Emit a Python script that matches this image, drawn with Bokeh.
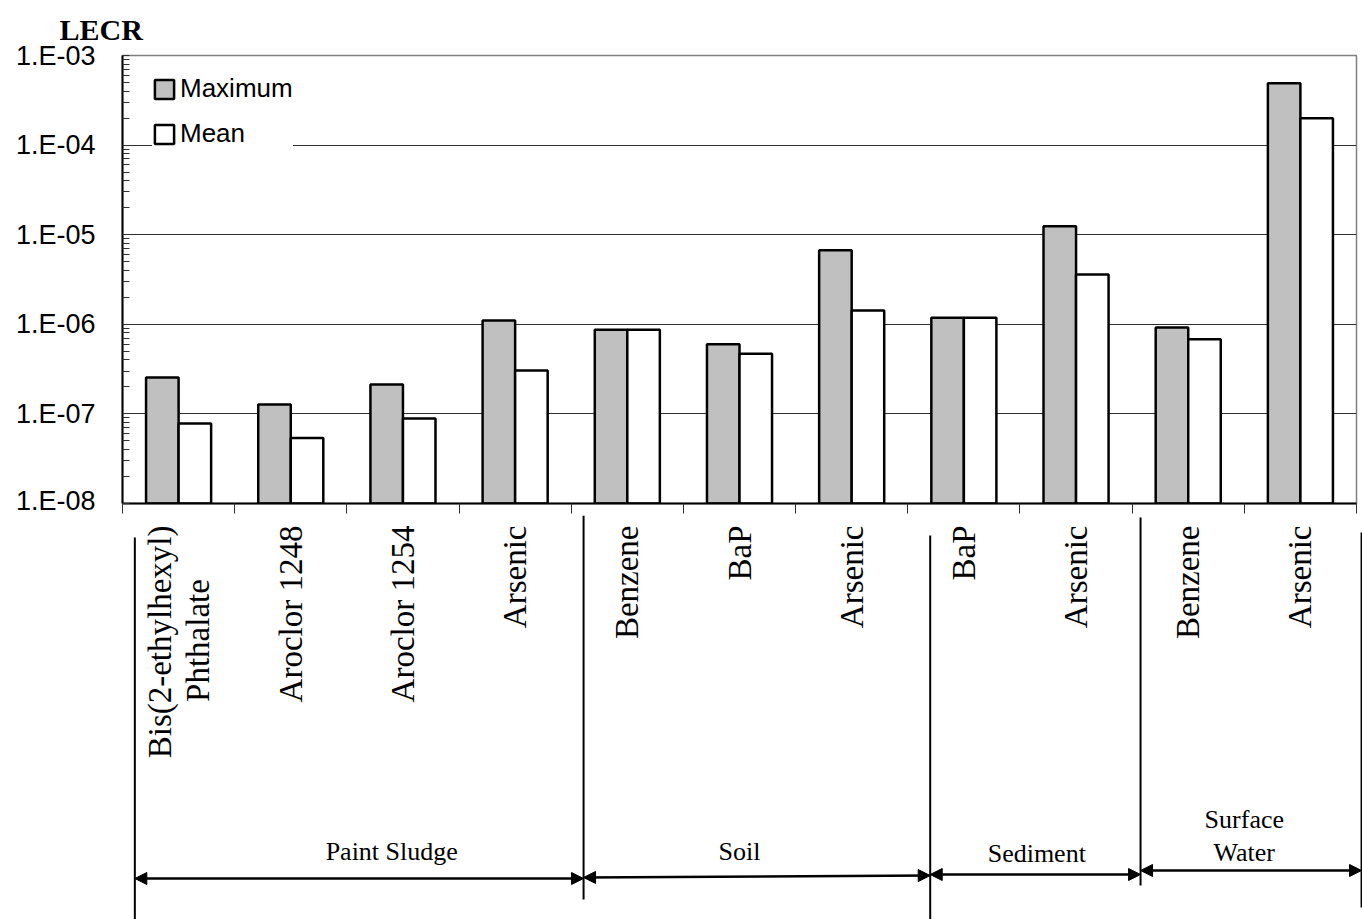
import numpy as np
from bokeh.plotting import figure
from bokeh.models import (Range1d, FixedTicker, CustomJSTickFormatter, Legend, LegendItem,
                          Title, Arrow, NormalHead, ColumnDataSource)
from bokeh.layouts import column
from bokeh.embed import file_html
from bokeh.resources import INLINE
from bokeh.core.properties import value

# ---------------- data ----------------
categories = ["Bis(2-ethylhexyl)\nPhthalate", "Aroclor 1248", "Aroclor 1254", "Arsenic",
              "Benzene", "BaP", "Arsenic", "BaP", "Arsenic", "Benzene", "Arsenic"]
maximum = [2.55e-7, 1.27e-7, 2.13e-7, 1.10e-6, 8.7e-7, 6.0e-7, 6.7e-6, 1.18e-6, 1.24e-5, 9.2e-7, 4.9e-4]
mean = [7.8e-8, 5.4e-8, 8.9e-8, 3.05e-7, 8.7e-7, 4.7e-7, 1.43e-6, 1.18e-6, 3.6e-6, 6.8e-7, 2.0e-4]
groups = ["Paint Sludge", "Soil", "Sediment", "Surface\nWater"]
group_sizes = [4, 3, 2, 2]
y_ticks = [1e-8, 1e-7, 1e-6, 1e-5, 1e-4, 1e-3]
y_label = "LECR"

SERIF = "Liberation Serif"
SANS = "Liberation Sans"
N = len(categories)
FW, FH = 1234, 448
TOP_H = 55 + FH + 12

# ---------------- top chart ----------------
p = figure(frame_width=FW, frame_height=FH, x_range=Range1d(0, N),
           y_range=Range1d(y_ticks[0], y_ticks[-1]), y_axis_type="log",
           output_backend="svg", toolbar_location=None,
           min_border_left=122, min_border_right=6, min_border_top=55, min_border_bottom=12)
p.outline_line_color = "#808080"
p.outline_line_width = 1.5
p.background_fill_color = "white"

xc = np.arange(N) + 0.5
src = ColumnDataSource(dict(xm=xc - 0.145, xn=xc + 0.145, maximum=maximum, mean=mean))
r1 = p.vbar(x="xm", top="maximum", bottom=y_ticks[0], width=0.29, source=src,
            fill_color="#C0C0C0", line_color="black", line_width=2.5)
r2 = p.vbar(x="xn", top="mean", bottom=y_ticks[0], width=0.29, source=src,
            fill_color="white", line_color="black", line_width=2.5)

# y axis
minor = [m * t for t in y_ticks[:-1] for m in range(2, 10)]
p.yaxis.ticker = FixedTicker(ticks=y_ticks, minor_ticks=minor)
p.yaxis.formatter = CustomJSTickFormatter(code="""
const e = Math.round(Math.log10(tick));
return '1.E' + (e < 0 ? '-' : '+') + String(Math.abs(e)).padStart(2, '0');
""")
p.yaxis.major_label_text_font = SANS
p.yaxis.major_label_text_font_size = "27px"
p.yaxis.major_label_text_color = "black"
p.yaxis.major_label_standoff = 27
p.yaxis.major_tick_in = 7
p.yaxis.major_tick_out = 0
p.yaxis.minor_tick_in = 7
p.yaxis.minor_tick_out = 0
p.yaxis.axis_line_color = "black"
p.yaxis.axis_line_width = 2
p.yaxis.major_tick_line_color = "#303030"
p.yaxis.minor_tick_line_color = "#303030"

# x axis (ticks at the category boundaries, no labels: the labels are drawn below)
p.xaxis.ticker = FixedTicker(ticks=list(range(N + 1)))
p.xaxis.formatter = CustomJSTickFormatter(code="return '';")
p.xaxis.major_label_standoff = 0
p.xaxis.major_tick_in = 0
p.xaxis.major_tick_out = 10
p.xaxis.major_tick_line_color = "#303030"
p.xaxis.axis_line_color = "black"
p.xaxis.axis_line_width = 2

p.xgrid.visible = False
p.ygrid.grid_line_color = "#303030"
p.ygrid.grid_line_width = 1

legend = Legend(items=[LegendItem(label="Maximum", renderers=[r1]),
                       LegendItem(label="Mean", renderers=[r2])],
                location=(30, 354), margin=0, padding=8, spacing=14,
                border_line_color=None, background_fill_color="white", background_fill_alpha=1.0,
                label_text_font=SANS, label_text_font_size="26px", label_text_color="black",
                label_standoff=4, glyph_width=24, glyph_height=24, label_height=20)
p.add_layout(legend)

p.add_layout(Title(text=y_label, align="left", offset=-63, standoff=20, text_font=SERIF,
                   text_font_style="bold", text_font_size="30px", text_color="black"), "above")

# ---------------- bottom: category labels and group brackets ----------------
QW = 1240
QH = 919 - TOP_H
q = figure(frame_width=QW, frame_height=QH, x_range=Range1d(0, N * QW / FW),
           y_range=Range1d(TOP_H + QH, TOP_H), output_backend="svg", toolbar_location=None,
           x_axis_location=None, y_axis_location=None,
           min_border_left=122, min_border_right=0, min_border_top=0, min_border_bottom=0)
q.grid.visible = False
q.outline_line_color = None

LABEL_TOP = 525
lx, ltxt, lxo, lyo, lalign = [], [], [], [], []
for i, c in enumerate(categories):
    parts = c.split("\n")
    if len(parts) == 1:
        lx.append(i + 0.5); ltxt.append(c); lxo.append(0); lyo.append(0); lalign.append("right")
    else:
        lx.append(i + 0.5); ltxt.append(parts[0]); lxo.append(-19); lyo.append(0); lalign.append("right")
        lx.append(i + 0.5); ltxt.append(parts[1]); lxo.append(19); lyo.append(115); lalign.append("center")
lsrc = ColumnDataSource(dict(x=lx, text=ltxt, xo=lxo, yo=lyo, align=lalign))
q.text(x="x", y=LABEL_TOP, text="text", x_offset="xo", y_offset="yo", text_align="align",
       angle=np.pi / 2, text_baseline="middle", source=lsrc,
       text_font=value(SERIF), text_font_size="33px", text_color="black")

bounds = np.concatenate([[0], np.cumsum(group_sizes)])
sep_off = [0.11, 0.11, 0.2, 0.075, 0.045]
sep_top = [537, 515, 535, 517, 532]
sep_bot = [919, 899, 919, 885, 907]
sx = [float(b + o) for b, o in zip(bounds, sep_off)]
q.segment(x0=sx, x1=sx, y0=sep_top, y1=sep_bot, line_color="black", line_width=2)

arrow_y0 = [878, 877, 874, 870]
arrow_y1 = [878, 875, 874, 870]
for g in range(len(groups)):
    q.add_layout(Arrow(x_start=sx[g], x_end=sx[g + 1], y_start=arrow_y0[g], y_end=arrow_y1[g],
                       line_color="black", line_width=2.5,
                       start=NormalHead(size=12, fill_color="black", line_color="black"),
                       end=NormalHead(size=12, fill_color="black", line_color="black")))

gx = [2.4, 5.5, 8.15, 10.0]
gy = [851, 851, 853, 835]
tx, ty, tt = [], [], []
for g, name in enumerate(groups):
    parts = name.split("\n")
    n = len(parts)
    for k, part in enumerate(parts):
        tx.append(gx[g]); ty.append(gy[g] + (k - (n - 1) / 2) * 33); tt.append(part)
q.text(x=tx, y=ty, text=tt, text_align="center", text_baseline="middle",
       text_font=value(SERIF), text_font_size="26px", text_color="black")

layout = column(p, q, spacing=0)
open("out.html", "w").write(file_html(layout, INLINE))
